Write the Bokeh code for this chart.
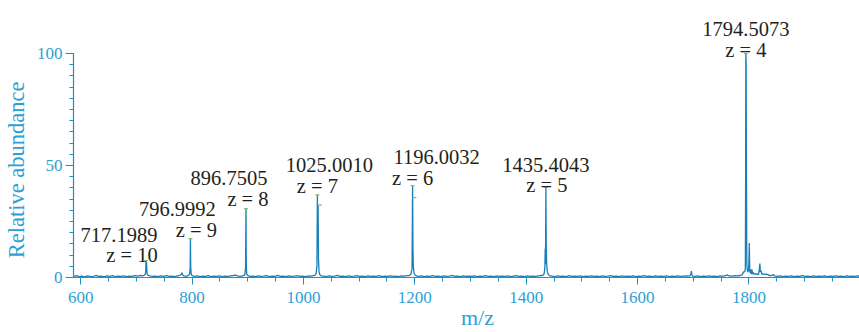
from bokeh.plotting import figure
from bokeh.models import Range1d, FixedTicker, ColumnDataSource
from bokeh.core.properties import value
from bokeh.embed import file_html
from bokeh.resources import INLINE

# ---------------- spectrum (m/z, relative abundance) ----------------
mz_r1 = [587, 592, 597, 602, 607, 612, 617, 622, 627, 632, 637, 642, 647, 652, 657, 662, 667, 672, 677, 682, 687, 692, 697, 702, 707, 711]
ab_r1 = [0.5, 0.8, 0.4, 0.6, 0.3, 0.7, 0.5, 0.4, 0.9, 0.5, 0.6, 0.3, 0.7, 0.5, 0.8, 0.4, 0.6, 0.5, 0.7, 0.4, 0.6, 0.5, 0.8, 0.6, 0.9, 0.7]
mz_p717 = [714, 716, 716.8, 717.2, 717.7, 718.2, 718.8, 719.6, 721]
ab_p717 = [1.0, 1.5, 3.0, 7.6, 3.5, 6.8, 2.5, 1.4, 0.9]
mz_r2 = [724, 729, 734, 739, 744, 749, 754, 759, 764, 769, 774, 778, 780.5, 781.9, 783, 785, 789, 793]
ab_r2 = [0.7, 0.5, 0.6, 0.4, 0.7, 0.5, 0.8, 0.5, 0.6, 0.4, 0.7, 0.9, 1.4, 2.1, 1.2, 0.7, 0.5, 0.8]
mz_p797 = [795.5, 796.5, 797.0, 797.5, 798.3, 800]
ab_p797 = [1.5, 4.0, 17.4, 5.0, 1.6, 0.8]
mz_r3 = [804, 809, 814, 819, 824, 829, 834, 839, 844, 849, 854, 859, 864, 869, 874, 878, 881, 886, 891]
ab_r3 = [0.5, 0.7, 0.4, 0.6, 0.5, 0.8, 0.4, 0.6, 0.5, 0.7, 0.4, 0.6, 0.5, 0.7, 0.9, 1.1, 0.7, 0.5, 0.7]
mz_p897 = [894.5, 896.0, 896.75, 897.3, 898.0, 900]
ab_p897 = [1.2, 4.0, 30.8, 6.0, 1.5, 0.8]
mz_r4 = [904, 909, 914, 919, 924, 929, 934, 939, 944, 949, 954, 959, 964, 969, 974, 979, 984, 989, 994, 999, 1004, 1009, 1014, 1018]
ab_r4 = [0.5, 0.6, 0.4, 0.7, 0.5, 0.6, 0.8, 0.4, 0.6, 0.5, 0.9, 0.5, 0.6, 0.4, 0.7, 0.5, 0.6, 0.8, 0.5, 0.6, 0.4, 0.7, 0.6, 0.8]
mz_p1025 = [1020.5, 1022.5, 1024.2, 1025.0, 1025.6, 1026.3, 1027.0, 1028.0, 1029.5, 1032]
ab_p1025 = [1.0, 1.6, 5.0, 36.9, 20.0, 32.0, 8.0, 2.5, 1.2, 0.7]
mz_r5 = [1036, 1041, 1046, 1051, 1056, 1061, 1066, 1071, 1076, 1081, 1086, 1091, 1096, 1101, 1106, 1111, 1116, 1121, 1126, 1131, 1136, 1141, 1146, 1151, 1156, 1161, 1166, 1171, 1176, 1181, 1186]
ab_r5 = [0.6, 0.4, 0.7, 0.5, 0.6, 0.9, 0.5, 0.6, 0.4, 0.7, 0.5, 0.6, 0.8, 0.5, 0.6, 0.4, 0.7, 0.5, 0.6, 0.5, 0.8, 0.4, 0.6, 0.5, 0.7, 0.5, 0.6, 0.4, 0.7, 0.6, 0.8]
mz_p1196 = [1190, 1193, 1195, 1196.0, 1196.6, 1197.3, 1198.5, 1200.5, 1203]
ab_p1196 = [0.9, 1.5, 4.0, 41.0, 14.0, 5.0, 2.0, 1.1, 0.7]
mz_r6 = [1207, 1212, 1217, 1222, 1227, 1232, 1237, 1242, 1247, 1252, 1257, 1262, 1267, 1272, 1277, 1282, 1287, 1292, 1297, 1302, 1307, 1312, 1317, 1322, 1327, 1332, 1337, 1342, 1347, 1352, 1357, 1362, 1367, 1372, 1377, 1382, 1387, 1392, 1397, 1402, 1407, 1412, 1417, 1422, 1427]
ab_r6 = [0.5, 0.7, 0.4, 0.6, 0.5, 0.8, 0.5, 0.6, 0.4, 0.7, 0.5, 0.6, 0.9, 0.5, 0.6, 0.4, 0.7, 0.5, 0.6, 0.5, 0.7, 0.4, 0.6, 0.5, 0.8, 0.5, 0.6, 0.4, 0.7, 0.5, 0.6, 0.5, 0.7, 0.4, 0.6, 0.8, 0.5, 0.6, 0.4, 0.7, 0.5, 0.6, 0.5, 0.7, 0.9]
mz_p1435 = [1430, 1432, 1433.5, 1434.2, 1434.7, 1435.4, 1436.0, 1436.8, 1438.0, 1440.0, 1443]
ab_p1435 = [1.0, 1.5, 4.0, 12.9, 6.0, 40.2, 14.0, 6.0, 2.5, 1.2, 0.7]
mz_r7 = [1447, 1452, 1457, 1462, 1467, 1472, 1477, 1482, 1487, 1492, 1497, 1502, 1507, 1512, 1517, 1522, 1527, 1532, 1537, 1542, 1547, 1552, 1557, 1562, 1567, 1572, 1577, 1582, 1587, 1592, 1597, 1602, 1607, 1612, 1617, 1622, 1627, 1632, 1637, 1642, 1647, 1652, 1657, 1662, 1667, 1672, 1677, 1682, 1687, 1692]
ab_r7 = [0.6, 0.4, 0.7, 0.5, 0.6, 0.4, 0.8, 0.5, 0.6, 0.5, 0.7, 0.4, 0.6, 0.5, 0.7, 0.5, 0.6, 0.4, 0.7, 0.5, 0.6, 0.8, 0.5, 0.6, 0.4, 0.7, 0.5, 0.6, 0.5, 0.7, 0.4, 0.6, 0.5, 0.8, 0.5, 0.6, 0.4, 0.7, 0.5, 0.6, 0.5, 0.7, 0.4, 0.6, 0.5, 0.7, 0.5, 0.6, 0.7, 0.6]
mz_p1696 = [1694.5, 1695.8, 1696.7, 1697.4, 1699]
ab_p1696 = [0.8, 1.6, 2.9, 1.5, 0.6]
mz_r8 = [1703, 1708, 1713, 1718, 1723, 1728, 1733, 1738, 1743, 1748, 1753, 1758, 1761, 1764, 1769, 1774, 1779, 1784, 1788]
ab_r8 = [0.5, 0.7, 0.4, 0.6, 0.5, 0.7, 0.5, 0.6, 0.4, 0.7, 0.6, 0.8, 1.2, 0.7, 0.6, 0.8, 0.7, 0.9, 1.2]
mz_p1794 = [1790.5, 1792.5, 1793.6, 1794.1, 1794.5, 1795.0, 1795.5, 1796.2, 1797.2, 1798.3, 1799.6, 1800.7, 1801.5, 1802.5, 1803.6, 1804.4, 1805.5, 1806.5, 1807.5, 1809, 1811, 1813, 1815, 1817, 1818.6, 1819.7, 1820.6, 1822, 1823.2, 1825, 1828, 1831, 1834, 1837, 1840, 1843.5, 1846]
ab_p1794 = [2.5, 2.6, 4.0, 45.0, 100.0, 96.0, 55.0, 6.0, 3.2, 2.4, 4.0, 15.4, 3.0, 2.0, 3.7, 1.5, 3.5, 1.6, 2.3, 1.5, 1.8, 1.4, 1.6, 1.2, 3.5, 6.2, 2.5, 3.0, 1.5, 1.6, 1.4, 1.5, 1.3, 0.9, 0.8, 1.3, 0.7]
mz_r9 = [1851, 1856, 1861, 1866, 1871, 1876, 1881, 1886, 1891, 1896, 1901, 1906, 1911, 1916, 1921, 1926, 1931, 1936, 1941, 1946, 1951, 1956, 1961, 1966, 1971, 1976, 1981, 1986, 1991, 1996, 2001]
ab_r9 = [0.5, 0.7, 0.4, 0.6, 0.5, 0.7, 0.4, 0.6, 0.5, 0.8, 0.5, 0.6, 0.4, 0.7, 0.5, 0.6, 0.5, 0.7, 0.4, 0.6, 0.5, 0.7, 0.5, 0.6, 0.4, 0.7, 0.5, 0.6, 0.5, 0.7, 0.6]

mz = (mz_r1 + mz_p717 + mz_r2 + mz_p797 + mz_r3 + mz_p897 + mz_r4 + mz_p1025 + mz_r5 + mz_p1196
      + mz_r6 + mz_p1435 + mz_r7 + mz_p1696 + mz_r8 + mz_p1794 + mz_r9)
ab = (ab_r1 + ab_p717 + ab_r2 + ab_p797 + ab_r3 + ab_p897 + ab_r4 + ab_p1025 + ab_r5 + ab_p1196
      + ab_r6 + ab_p1435 + ab_r7 + ab_p1696 + ab_r8 + ab_p1794 + ab_r9)
assert len(mz) == len(ab)

# ---------------- annotated peaks ----------------
peak_mz = [717.1989, 796.9992, 896.7505, 1025.0010, 1196.0032, 1435.4043, 1794.5073]
peak_height = [7.6, 17.4, 30.8, 36.9, 41.0, 40.2, 100.0]
peak_charge = [10, 9, 8, 7, 6, 5, 4]
# small centroid marks (green)
mark_mz = peak_mz + [1029.5, 1199.1]
mark_ab = peak_height + [32.3, 35.7]

# ---------------- ticks and axis titles ----------------
x_major = [600, 800, 1000, 1200, 1400, 1600, 1800]
x_minor = [600, 650, 700, 750, 800, 850, 900, 950, 1000, 1050, 1100, 1150, 1200, 1250, 1300, 1350,
           1400, 1450, 1500, 1550, 1600, 1650, 1700, 1750, 1800, 1850, 1900, 1950]
y_major = [0, 50, 100]
y_minor = [0, 5, 10, 15, 20, 25, 30, 35, 40, 45, 50, 55, 60, 65, 70, 75, 80, 85, 90, 95, 100]
x_title = "m/z"
y_title = "Relative abundance"

# ---------------- styles ----------------
LINE = "#177fb9"
AX = "#1f8fc7"
LAB = "#2e9fd4"
TXT = "#231f20"
GREEN = "#7cc66a"
FONT = "Liberation Serif"
NBSP = "\u00a0"

# label placement offsets in screen pixels (style)
mass_dx = [-27, -13, -17, 12, 24, 0, 0]
z_dx = [-14, 6, 2, 0, 0, 1, 0]
z_up = [5, 9, 10, 9, 8, 2, 4]
line_gap = 20.5

p = figure(width=859, height=332, output_backend="svg", toolbar_location=None,
           x_range=Range1d(587, 1998.6), y_range=Range1d(0, 123.7),
           min_border_left=72, min_border_right=0, min_border_top=0, min_border_bottom=55,
           # non-breaking padding only nudges the centred titles to where the reference puts them
           x_axis_label=NBSP * 4 + x_title, y_axis_label=y_title + NBSP * 11)
p.outline_line_color = None
p.grid.visible = False

p.line(mz, ab, line_color=LINE, line_width=1.3)
p.scatter(mark_mz, mark_ab, marker="dash", size=4, line_color=GREEN, line_width=1.2)

src = ColumnDataSource(dict(
    x=peak_mz, y=peak_height,
    mass=[f"{m:.4f}" for m in peak_mz],
    z=[f"z = {c}" for c in peak_charge],
    mdx=mass_dx, mdy=[-(u + line_gap) for u in z_up],
    zdx=z_dx, zdy=[-u for u in z_up],
))
common = dict(text_font=value(FONT), text_font_size="20.5px", text_color=TXT,
              text_align="center", text_baseline="alphabetic", source=src)
p.text(x="x", y="y", text="mass", x_offset="mdx", y_offset="mdy", **common)
p.text(x="x", y="y", text="z", x_offset="zdx", y_offset="zdy", **common)

xa = p.xaxis[0]
xa.ticker = FixedTicker(ticks=x_major, minor_ticks=x_minor)
ya = p.yaxis[0]
ya.ticker = FixedTicker(ticks=y_major, minor_ticks=y_minor)
ya.bounds = (0, 100)
for a in (xa, ya):
    a.axis_line_color = AX
    a.axis_line_width = 1.2
    a.major_tick_line_color = AX
    a.minor_tick_line_color = AX
    a.major_tick_in = 0
    a.minor_tick_in = 0
    a.minor_tick_out = 4
    a.major_label_text_font = FONT
    a.major_label_text_font_size = "17px"
    a.major_label_text_color = LAB
    a.axis_label_text_font = FONT
    a.axis_label_text_font_style = "normal"
    a.axis_label_text_color = LAB
xa.major_tick_out = 7
xa.major_label_standoff = 7
xa.axis_label_text_font_size = "22px"
xa.axis_label_standoff = -1
ya.major_tick_out = 8
ya.major_label_standoff = 3
ya.axis_label_text_font_size = "22.5px"
ya.axis_label_standoff = 5

open("out.html", "w").write(file_html(p, INLINE))
